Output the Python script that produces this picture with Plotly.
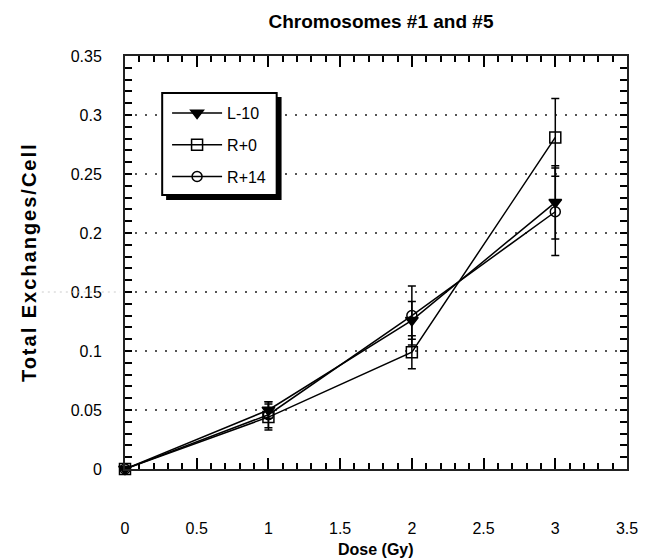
import plotly.graph_objects as go

dose = [0, 1, 2, 3]

series_names = ["L-10", "R+0", "R+14"]
l10 = [0.0, 0.050, 0.126, 0.226]
l10_err = [0.0, 0.007, 0.016, 0.031]
r0 = [0.0, 0.044, 0.099, 0.281]
r0_err = [0.0, 0.011, 0.014, 0.033]
r14 = [0.0, 0.046, 0.130, 0.218]
r14_err = [0.0, 0.011, 0.025, 0.037]

x_ticks = [0, 0.5, 1, 1.5, 2, 2.5, 3, 3.5]
x_tick_labels = ["0", "0.5", "1", "1.5", "2", "2.5", "3", "3.5"]
y_ticks = [0, 0.05, 0.1, 0.15, 0.2, 0.25, 0.3, 0.35]
y_tick_labels = ["0", "0.05", "0.1", "0.15", "0.2", "0.25", "0.3", "0.35"]

FONT = "Liberation Sans, Arial, sans-serif"
INK = "#000000"

# The page body adds an 8px offset, so the figure is sized to fit the window.
OFF = 8
FW, FH = 649 - OFF, 559 - OFF
# plot area in screen pixels (layout only)
L, R, T, B = 125, 638, 56, 469
PW, PH = R - L, B - T


def px(x):
    return (x - L) / PW


def py(y):
    return (B - y) / PH


styles = [
    dict(symbol="triangle-down", size=11),
    dict(symbol="square-open", size=11),
    dict(symbol="circle-open", size=10),
]

fig = go.Figure()
for name, ys, err, st in zip(series_names, [l10, r0, r14], [l10_err, r0_err, r14_err], styles):
    fig.add_trace(go.Scatter(
        x=dose, y=ys, name=name, mode="lines+markers",
        legendgroup=name,
        line=dict(color=INK, width=1.5),
        marker=dict(symbol=st["symbol"], size=st["size"], color=INK,
                    line=dict(color=INK, width=1.5)),
        error_y=dict(type="data", array=err, visible=True, color=INK,
                     thickness=1.5, width=4),
        cliponaxis=False,
    ))

# legend box with drop shadow (decorative frame)
fig.add_shape(type="rect", xref="paper", yref="paper",
              x0=px(167), x1=px(285), y0=py(200), y1=py(97),
              fillcolor=INK, line=dict(width=0), layer="above")
fig.add_shape(type="rect", xref="paper", yref="paper",
              x0=px(163), x1=px(280), y0=py(195), y1=py(93),
              fillcolor="white", line=dict(color=INK, width=2), layer="above")

# faint dotted artifact left of axis at 0.15
fig.add_shape(type="line", xref="paper", yref="y",
              x0=px(40), x1=px(120), y0=0.15, y1=0.15,
              line=dict(color="#cccccc", width=1, dash="2px,4px"))

fig.update_layout(
    width=FW, height=FH,
    margin=dict(l=L - OFF, r=FW - (R - OFF), t=T - OFF, b=FH - (B - OFF)),
    paper_bgcolor="white", plot_bgcolor="white",
    font=dict(family=FONT, color=INK, size=16),
    title=dict(text="<b>Chromosomes #1 and #5</b>", x=(381 - OFF) / FW,
               xanchor="center", y=1 - (21 - OFF) / FH, yanchor="middle", yref="container",
               font=dict(size=19, family=FONT, color=INK)),
    showlegend=True,
    legend=dict(x=px(168), y=py(96), xanchor="left", yanchor="top",
                bgcolor="rgba(0,0,0,0)", borderwidth=0,
                font=dict(size=16, family=FONT, color=INK),
                tracegroupgap=8, itemwidth=50),
    xaxis=dict(range=[0, 3.5], tickvals=x_ticks, ticktext=x_tick_labels,
               ticks="inside", ticklen=11, tickwidth=1.5, tickcolor=INK,
               showline=True, linecolor="#222222", linewidth=2, mirror="allticks",
               showgrid=False, zeroline=False, ticklabelstandoff=44,
               minor=dict(dtick=0.1, ticks="inside", ticklen=6, tickwidth=1.5,
                          tickcolor=INK, showgrid=False),
               tickfont=dict(size=16)),
    yaxis=dict(range=[0, 0.35], tickvals=y_ticks, ticktext=y_tick_labels,
               ticks="inside", ticklen=7, tickwidth=1.5, tickcolor=INK,
               showline=True, linecolor="#222222", linewidth=2, mirror="allticks",
               showgrid=True, gridcolor="#555555", griddash="2px,8px", gridwidth=2,
               zeroline=False, ticklabelstandoff=18,
               minor=dict(dtick=0.01, ticks="inside", ticklen=7, tickwidth=1.5,
                          tickcolor=INK, showgrid=False),
               tickfont=dict(size=16)),
    annotations=[
        dict(text="<b>Total Exchanges/Cell</b>", textangle=-90, showarrow=False,
             xref="paper", yref="paper", x=px(27), y=py(262),
             xanchor="center", yanchor="middle", font=dict(size=20)),
        dict(text="<b>Dose (Gy)</b>", showarrow=False,
             xref="paper", yref="paper", x=0.5, y=py(549),
             xanchor="center", yanchor="middle", font=dict(size=16)),
    ],
)

post = ("document.querySelectorAll('text').forEach(function(t){"
        "if(t.textContent==='Total Exchanges/Cell'){t.style.letterSpacing='2px';}});")
fig.write_html("out.html", post_script=post)
